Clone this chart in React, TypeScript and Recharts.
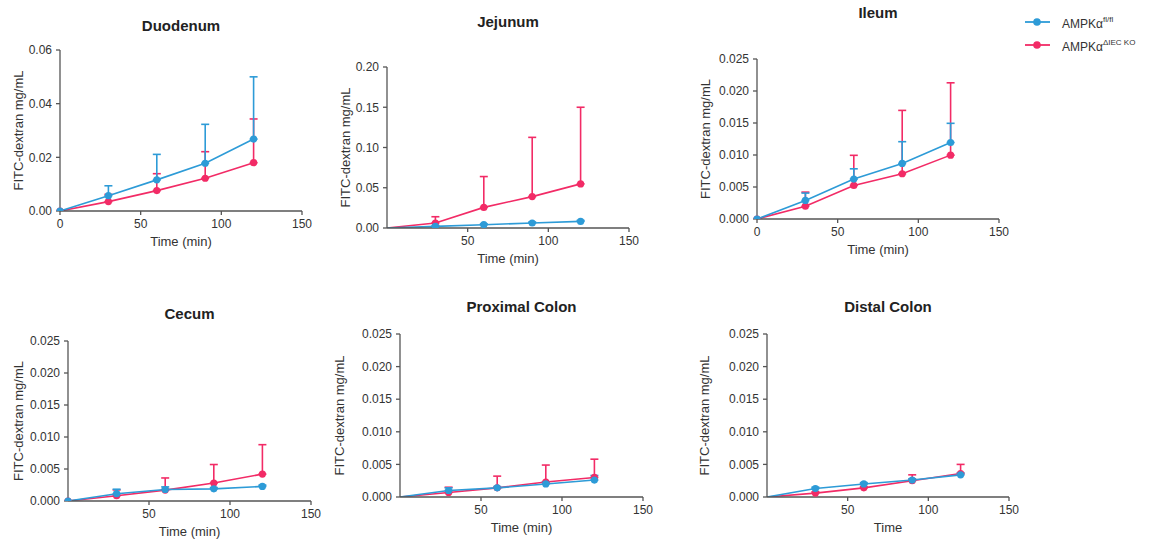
import React from "react";
import { LineChart, Line, XAxis, YAxis, ErrorBar } from "recharts";

const FONT = '"Liberation Sans", Arial, sans-serif';
const BLUE = "#2D9BD7";
const RED = "#F22B66";
const AXIS = "#555";
const TEXT = "#333";

const times = [0, 30, 60, 90, 120];

// means and upper error (delta) per segment
const duodenumFl = [0, 0.0057, 0.0116, 0.0178, 0.0268];
const duodenumFlErr = [0, 0.0037, 0.0095, 0.0145, 0.0232];
const duodenumKo = [0, 0.0035, 0.0076, 0.0122, 0.018];
const duodenumKoErr = [0, 0.0027, 0.0063, 0.0099, 0.0163];

const jejunumFl = [0, 0.002, 0.0041, 0.0062, 0.0082];
const jejunumFlErr = [0, 0.001, 0.001, 0.0012, 0.0012];
const jejunumKo = [0, 0.0062, 0.0256, 0.039, 0.0548];
const jejunumKoErr = [0, 0.0078, 0.0383, 0.0736, 0.0952];

const ileumFl = [0, 0.0029, 0.00624, 0.00868, 0.01195];
const ileumFlErr = [0, 0.00115, 0.0016, 0.0034, 0.003];
const ileumKo = [0, 0.002, 0.00525, 0.00707, 0.00998];
const ileumKoErr = [0, 0.0022, 0.0047, 0.0099, 0.0113];

const cecumFl = [0, 0.00114, 0.0018, 0.0019, 0.00228];
const cecumFlErr = [0, 0.0007, 0.0004, 0.0002, 0.0002];
const cecumKo = [0, 0.00083, 0.0017, 0.0028, 0.0042];
const cecumKoErr = [0, 0.0009, 0.0019, 0.0029, 0.0046];

const proxFl = [0, 0.001, 0.0014, 0.002, 0.0026];
const proxFlErr = [0, 0.0004, 0.0002, 0.0003, 0.0007];
const proxKo = [0, 0.0007, 0.0014, 0.0023, 0.003];
const proxKoErr = [0, 0.0008, 0.0018, 0.0026, 0.0028];

const distalFl = [0, 0.0013, 0.002, 0.0026, 0.0034];
const distalFlErr = [0, 0.0002, 0.0002, 0.0002, 0.0003];
const distalKo = [0, 0.0006, 0.0014, 0.0025, 0.0036];
const distalKoErr = [0, 0.0002, 0.0002, 0.0009, 0.0014];

const ticksWithZero = [0, 50, 100, 150];
const ticksNoZero = [50, 100, 150];
const yTicks06 = [0, 0.02, 0.04, 0.06];
const yTicks20 = [0, 0.05, 0.1, 0.15, 0.2];
const yTicks025 = [0, 0.005, 0.01, 0.015, 0.02, 0.025];

function rows(fl: number[], flErr: number[], ko: number[], koErr: number[]) {
  return times.map((t, i) => ({
    t,
    fl: fl[i],
    flErr: i === 0 ? null : [0, flErr[i]],
    ko: ko[i],
    koErr: i === 0 ? null : [0, koErr[i]],
  }));
}

const panels = [
  { title: "Duodenum", data: rows(duodenumFl, duodenumFlErr, duodenumKo, duodenumKoErr), ox: 0, L: 60, T: 50, R: 302, B: 211, labelX: 18, titleY: 26, yMax: 0.06, yTicks: yTicks06, dec: 2, xTicks: ticksWithZero, zeroDot: true, xLabel: "Time (min)" },
  { title: "Jejunum", data: rows(jejunumFl, jejunumFlErr, jejunumKo, jejunumKoErr), ox: 330, L: 387, T: 67, R: 629, B: 228, labelX: 345, titleY: 22, yMax: 0.2, yTicks: yTicks20, dec: 2, xTicks: ticksNoZero, zeroDot: false, xLabel: "Time (min)" },
  { title: "Ileum", data: rows(ileumFl, ileumFlErr, ileumKo, ileumKoErr), ox: 690, L: 757, T: 59, R: 999, B: 219, labelX: 705, titleY: 13, yMax: 0.025, yTicks: yTicks025, dec: 3, xTicks: ticksWithZero, zeroDot: true, xLabel: "Time (min)" },
  { title: "Cecum", data: rows(cecumFl, cecumFlErr, cecumKo, cecumKoErr), ox: 0, L: 68, T: 341, R: 311, B: 501, labelX: 18, titleY: 314, yMax: 0.025, yTicks: yTicks025, dec: 3, xTicks: ticksNoZero, zeroDot: true, xLabel: "Time (min)" },
  { title: "Proximal Colon", data: rows(proxFl, proxFlErr, proxKo, proxKoErr), ox: 330, L: 400, T: 334, R: 643, B: 497, labelX: 339, titleY: 307, yMax: 0.025, yTicks: yTicks025, dec: 3, xTicks: ticksNoZero, zeroDot: false, xLabel: "Time (min)" },
  { title: "Distal Colon", data: rows(distalFl, distalFlErr, distalKo, distalKoErr), ox: 690, L: 767, T: 334, R: 1009, B: 497, labelX: 704, titleY: 307, yMax: 0.025, yTicks: yTicks025, dec: 3, xTicks: ticksNoZero, zeroDot: false, xLabel: "Time" },
];

const MT = 10;
const MR = 15;
const XH = 45;

function makeDot(color: string, zeroDot: boolean) {
  return (p: any) => (
    <circle
      key={`d-${p.index}`}
      cx={p.cx}
      cy={p.cy}
      r={!zeroDot && p.index === 0 ? 0 : 3.6}
      fill={color}
      stroke="none"
    />
  );
}

function Panel({ p }: { p: (typeof panels)[number] }) {
  const yW = p.L - p.ox;
  const width = p.R - p.ox + MR;
  const height = p.B - p.T + MT + XH;
  const tickStyle = { fontSize: 12, fill: TEXT, fontFamily: FONT };
  return (
    <>
      <div
        style={{
          position: "absolute",
          left: p.L - 60,
          width: p.R - p.L + 120,
          top: p.titleY - 9,
          lineHeight: "18px",
          textAlign: "center",
          fontFamily: FONT,
          fontWeight: 700,
          fontSize: 15,
          color: "#222",
        }}
      >
        {p.title}
      </div>
      <div style={{ position: "absolute", left: p.ox, top: p.T - MT }}>
        <LineChart width={width} height={height} data={p.data} margin={{ top: MT, right: MR, left: 0, bottom: 0 }}>
          <XAxis
            dataKey="t"
            type="number"
            domain={[0, 150]}
            ticks={p.xTicks}
            tick={tickStyle}
            tickSize={4}
            tickMargin={4}
            height={XH}
            stroke={AXIS}
            strokeWidth={1.3}
            label={{
              content: (lp: any) => {
                const vb = lp.viewBox;
                return (
                  <text x={vb.x + vb.width / 2} y={vb.y + 34.5} textAnchor="middle" fontSize={13} fill={TEXT} fontFamily={FONT}>
                    {p.xLabel}
                  </text>
                );
              },
            }}
          />
          <YAxis
            type="number"
            domain={[0, p.yMax]}
            ticks={p.yTicks}
            tickFormatter={(v: number) => v.toFixed(p.dec)}
            tick={tickStyle}
            tickSize={4}
            tickMargin={4}
            width={yW}
            stroke={AXIS}
            strokeWidth={1.3}
            allowDataOverflow
            label={{
              content: (lp: any) => {
                const vb = lp.viewBox;
                const cx = p.labelX - p.ox;
                const cy = vb.y + vb.height / 2;
                return (
                  <text
                    x={cx}
                    y={cy}
                    transform={`rotate(-90 ${cx} ${cy})`}
                    textAnchor="middle"
                    dominantBaseline="central"
                    fontSize={13}
                    fill={TEXT}
                    fontFamily={FONT}
                  >
                    FITC-dextran mg/mL
                  </text>
                );
              },
            }}
          />
          <Line
            dataKey="ko"
            stroke={RED}
            strokeWidth={1.6}
            dot={makeDot(RED, p.zeroDot)}
            isAnimationActive={false}
          >
            <ErrorBar dataKey="koErr" direction="y" width={4} stroke={RED} strokeWidth={1.6} />
          </Line>
          <Line
            dataKey="fl"
            stroke={BLUE}
            strokeWidth={1.6}
            dot={makeDot(BLUE, p.zeroDot)}
            isAnimationActive={false}
          >
            <ErrorBar dataKey="flErr" direction="y" width={4} stroke={BLUE} strokeWidth={1.6} />
          </Line>
        </LineChart>
      </div>
    </>
  );
}

const legendItems = [
  { name: "AMPKα", sup: "fl/fl", color: BLUE, y: 22 },
  { name: "AMPKα", sup: "ΔIEC KO", color: RED, y: 45 },
];

export default function App() {
  return (
    <div style={{ position: "absolute", left: 0, top: 0, width: 1150, height: 541, background: "#fff", overflow: "hidden" }}>
      {panels.map((p) => (
        <Panel key={p.title} p={p} />
      ))}
      {legendItems.map((it) => (
        <div key={it.sup} style={{ position: "absolute", left: 1024, top: it.y - 10, height: 20, display: "flex", alignItems: "center" }}>
          <svg width={28} height={20}>
            <line x1={1} y1={10} x2={26} y2={10} stroke={it.color} strokeWidth={1.8} />
            <circle cx={13} cy={10} r={3.8} fill={it.color} />
          </svg>
          <span style={{ marginLeft: 10, fontFamily: FONT, fontSize: 12, color: TEXT, lineHeight: "20px" }}>
            {it.name}
            <sup style={{ fontSize: 8, verticalAlign: "6px" }}>{it.sup}</sup>
          </span>
        </div>
      ))}
    </div>
  );
}
